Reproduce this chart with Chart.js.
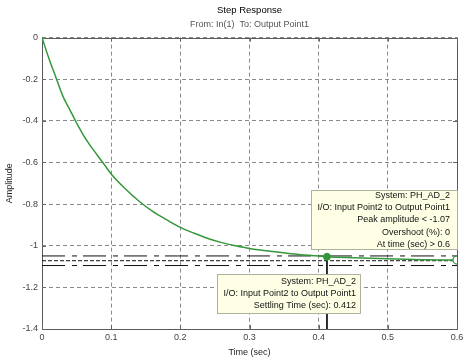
<!DOCTYPE html>
<html>
<head>
<meta charset="utf-8">
<script src="https://cdn.jsdelivr.net/npm/chart.js@4.4.1/dist/chart.umd.min.js"></script>
<style>
html,body{margin:0;padding:0;background:#fff;}
canvas{display:block;}
</style>
</head>
<body>
<canvas id="c" width="470" height="363"></canvas>
<script>
// ---- data ----
const timeValues = [0, 0.01, 0.02, 0.03, 0.04, 0.05, 0.06, 0.07, 0.08, 0.09, 0.10, 0.12, 0.14, 0.16, 0.18, 0.20, 0.22, 0.24, 0.26, 0.28, 0.30, 0.33, 0.36, 0.39, 0.412, 0.45, 0.50, 0.55, 0.60];
const amplitudeValues = [0, -0.10, -0.19, -0.28, -0.345, -0.41, -0.47, -0.52, -0.565, -0.61, -0.655, -0.725, -0.785, -0.835, -0.875, -0.912, -0.94, -0.965, -0.985, -1.0, -1.013, -1.027, -1.038, -1.047, -1.053, -1.058, -1.063, -1.067, -1.069];
const settlingPoint = [0.412, -1.053];
const peakPoint = [0.6, -1.069];
const upperBound = -1.049;
const finalValue = -1.072;
const lowerBound = -1.095;
const xTickValues = [0, 0.1, 0.2, 0.3, 0.4, 0.5, 0.6];
const xTickLabels = ['0', '0.1', '0.2', '0.3', '0.4', '0.5', '0.6'];
const yTickValues = [0, -0.2, -0.4, -0.6, -0.8, -1, -1.2, -1.4];
const yTickLabels = ['0', '-0.2', '-0.4', '-0.6', '-0.8', '-1', '-1.2', '-1.4'];
const titleText = 'Step Response';
const subtitleText = 'From: In(1)  To: Output Point1';
const xTitle = 'Time (sec)';
const yTitle = 'Amplitude';
const peakBoxLines = ['System: PH_AD_2', 'I/O: Input Point2 to Output Point1', 'Peak amplitude < -1.07', 'Overshoot (%): 0', 'At time (sec) > 0.6'];
const settleBoxLines = ['System: PH_AD_2', 'I/O: Input Point2 to Output Point1', 'Settling Time (sec): 0.412'];

const FONT = '"Liberation Sans", Arial, sans-serif';
const GREEN = '#35973b';

const curve = timeValues.map((t, i) => ({x: t, y: amplitudeValues[i]}));
const hline = v => [{x: xTickValues[0], y: v}, {x: xTickValues[xTickValues.length - 1], y: v}];

function labelFor(values, labels, v) {
  for (let i = 0; i < values.length; i++) if (Math.abs(values[i] - v) < 1e-6) return labels[i];
  return '';
}

const framePlugin = {
  id: 'frame',
  beforeDatasetsDraw(chart) {
    const {ctx, chartArea: a, scales} = chart;
    ctx.save();
    ctx.strokeStyle = '#5a5a5a';
    ctx.lineWidth = 1;
    ctx.setLineDash([]);
    ctx.strokeRect(Math.round(a.left) + 0.5, Math.round(a.top) + 0.5, Math.round(a.right - a.left), Math.round(a.bottom - a.top));
    // small inner ticks
    ctx.strokeStyle = '#666';
    ctx.beginPath();
    xTickValues.forEach(v => {
      const x = Math.round(scales.x.getPixelForValue(v)) + 0.5;
      ctx.moveTo(x, a.bottom); ctx.lineTo(x, a.bottom - 4);
      ctx.moveTo(x, a.top); ctx.lineTo(x, a.top + 4);
    });
    yTickValues.forEach(v => {
      const y = Math.round(scales.y.getPixelForValue(v)) + 0.5;
      ctx.moveTo(a.left, y); ctx.lineTo(a.left + 4, y);
      ctx.moveTo(a.right, y); ctx.lineTo(a.right - 4, y);
    });
    ctx.stroke();
    ctx.restore();
  }
};

function drawBox(ctx, right, top, lines, padR, lineH, padT) {
  ctx.font = '9px ' + FONT;
  let w = 0;
  lines.forEach(l => { w = Math.max(w, ctx.measureText(l).width); });
  const boxW = Math.round(w + padR + 6);
  const boxH = Math.round(lines.length * lineH + padT * 2 - 2);
  const left = Math.round(right - boxW);
  ctx.fillStyle = '#ffffe6';
  ctx.fillRect(left, top, boxW, boxH);
  ctx.strokeStyle = '#b0b0a0';
  ctx.lineWidth = 1;
  ctx.setLineDash([]);
  ctx.strokeRect(left + 0.5, top + 0.5, boxW - 1, boxH - 1);
  ctx.fillStyle = '#111';
  ctx.textAlign = 'right';
  ctx.textBaseline = 'middle';
  lines.forEach((l, i) => ctx.fillText(l, right - padR, top + padT + lineH * i + lineH / 2 - 1));
}

const boxPlugin = {
  id: 'boxes',
  afterDraw(chart) {
    const {ctx, scales} = chart;
    ctx.save();
    const px = scales.x.getPixelForValue(peakPoint[0]);
    const py = scales.y.getPixelForValue(peakPoint[1]);
    drawBox(ctx, Math.round(px) + 1, Math.round(py) - 70, peakBoxLines, 8, 12.3, 0);
    const sx = scales.x.getPixelForValue(settlingPoint[0]);
    const sy = scales.y.getPixelForValue(settlingPoint[1]);
    drawBox(ctx, Math.round(sx) + 34, Math.round(sy) + 17, settleBoxLines, 5, 12, 3);
    ctx.restore();
  }
};

new Chart(document.getElementById('c'), {
  type: 'line',
  data: {
    datasets: [
      {data: curve, borderColor: GREEN, borderWidth: 1.5, pointRadius: 0, cubicInterpolationMode: 'monotone', order: 1},
      {data: [{x: settlingPoint[0], y: settlingPoint[1]}], borderColor: GREEN, backgroundColor: GREEN, pointRadius: 3.5, pointBorderWidth: 1, showLine: false, order: 0},
      {data: [{x: peakPoint[0], y: peakPoint[1]}], borderColor: GREEN, backgroundColor: '#ffffff', pointRadius: 4, pointBorderWidth: 1.2, showLine: false, order: 0},
      {data: hline(upperBound), borderColor: '#111', borderWidth: 1, borderDash: [23, 7, 5, 6], pointRadius: 0, order: 3},
      {data: hline(finalValue), borderColor: '#111', borderWidth: 1, borderDash: [4, 2], pointRadius: 0, order: 3},
      {data: hline(lowerBound), borderColor: '#111', borderWidth: 1, borderDash: [23, 7, 5, 6], pointRadius: 0, order: 3},
      {data: [{x: settlingPoint[0], y: settlingPoint[1]}, {x: settlingPoint[0], y: yTickValues[yTickValues.length - 1]}], borderColor: '#111', borderWidth: 1, pointRadius: 0, order: 2}
    ]
  },
  options: {
    responsive: false,
    animation: false,
    devicePixelRatio: 1,
    layout: {padding: {left: 0, right: 13, top: 0, bottom: 0}},
    plugins: {
      legend: {display: false},
      tooltip: {enabled: false},
      title: {display: true, text: titleText, fullSize: false, color: '#000', font: {family: FONT, size: 9.5, weight: 'normal'}, padding: {top: 5, bottom: 3}},
      subtitle: {display: true, text: subtitleText, fullSize: false, color: '#555', font: {family: FONT, size: 9}, padding: {top: 0, bottom: 7.4}}
    },
    scales: {
      x: {
        type: 'linear', min: 0, max: 0.6,
        afterFit: s => { s.height = 34; },
        afterBuildTicks: s => { s.ticks = xTickValues.map(v => ({value: v})); },
        ticks: {color: '#444', font: {family: FONT, size: 9}, padding: 3, maxRotation: 0, autoSkip: false,
          callback: v => labelFor(xTickValues, xTickLabels, v)},
        grid: {color: '#8a8a8a', lineWidth: 1, drawTicks: false},
        border: {display: false, dash: [4, 3]},
        title: {display: true, text: xTitle, color: '#222', font: {family: FONT, size: 9}, padding: {top: 0, bottom: 5}}
      },
      y: {
        type: 'linear', min: -1.4, max: 0,
        afterFit: s => { s.width = 42; },
        afterBuildTicks: s => { s.ticks = yTickValues.slice().reverse().map(v => ({value: v})); },
        ticks: {color: '#444', font: {family: FONT, size: 9}, padding: 4, autoSkip: false,
          callback: v => labelFor(yTickValues, yTickLabels, v)},
        grid: {color: '#8a8a8a', lineWidth: 1, drawTicks: false},
        border: {display: false, dash: [4, 3]},
        title: {display: true, text: yTitle, color: '#222', font: {family: FONT, size: 9}, padding: {top: 4, bottom: 0}}
      }
    }
  },
  plugins: [framePlugin, boxPlugin]
});
</script>
</body>
</html>
